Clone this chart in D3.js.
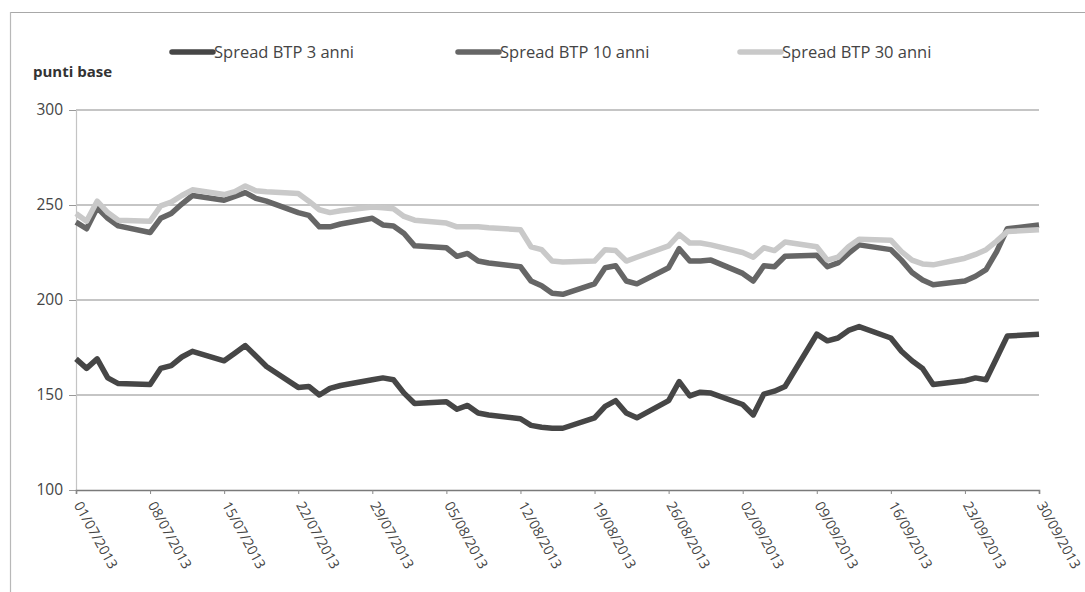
<!DOCTYPE html>
<html><head><meta charset="utf-8">
<script src="https://cdn.jsdelivr.net/npm/d3@7"></script>
<style>body{margin:0;background:#fff}svg{display:block}</style>
</head><body><svg id="c" width="1085" height="592"></svg>
<script>
const dates = [
 "01/07/2013","02/07/2013","03/07/2013","04/07/2013","05/07/2013",
 "08/07/2013","09/07/2013","10/07/2013","11/07/2013","12/07/2013",
 "15/07/2013","16/07/2013","17/07/2013","18/07/2013","19/07/2013",
 "22/07/2013","23/07/2013","24/07/2013","25/07/2013","26/07/2013",
 "29/07/2013","30/07/2013","31/07/2013","01/08/2013","02/08/2013",
 "05/08/2013","06/08/2013","07/08/2013","08/08/2013","09/08/2013",
 "12/08/2013","13/08/2013","14/08/2013","15/08/2013","16/08/2013",
 "19/08/2013","20/08/2013","21/08/2013","22/08/2013","23/08/2013",
 "26/08/2013","27/08/2013","28/08/2013","29/08/2013","30/08/2013",
 "02/09/2013","03/09/2013","04/09/2013","05/09/2013","06/09/2013",
 "09/09/2013","10/09/2013","11/09/2013","12/09/2013","13/09/2013",
 "16/09/2013","17/09/2013","18/09/2013","19/09/2013","20/09/2013",
 "23/09/2013","24/09/2013","25/09/2013","26/09/2013","27/09/2013",
 "30/09/2013"];
const spread3 = [
 169,164,169,159,156, 155.5,164,165.5,170,173, 168,172,176,170.5,165,
 154,154.5,150,153.5,155, 158,159,158,151,145.5,
 146.5,142.5,144.5,140.5,139.5, 137.5,134,133,132.5,132.5,
 138,144,147,140.5,138, 147,157,149.5,151.5,151,
 145,139.5,150.5,152,154.5, 182,178.5,180,184,186,
 180,173,168,164,155.5, 157.5,159,158,169.5,181, 182];
const spread10 = [
 241,237.5,248.5,243,239, 235.5,243,245.5,250.5,255, 252.5,254.5,256.5,253.5,252,
 246,244.5,238.5,238.5,240, 243,239.5,239,235,228.5,
 227.5,223,224.5,220.5,219.5, 217.5,210,207.5,203.5,203,
 208.5,217,218,210,208.5, 217,227,220.5,220.5,221,
 214,210,218,217.5,223, 223.5,217.5,219.5,224.5,229,
 226.5,221,214.5,210.5,208, 210,212.5,216,225.5,237.5, 239.5];
const spread30 = [
 245.5,241.5,252,246,242, 241.5,249.5,251.5,255,258, 255.5,257,260,257.5,257,
 256,252,247.5,246,247, 249,248.5,248,244,242,
 240.5,238.5,238.5,238.5,238, 237,228,226.5,220.5,220,
 220.5,226.5,226,220.5,222.5, 228.5,234.5,230,230,229,
 225,222.5,227.5,226,230.5, 228,221,222.5,228,232,
 231.5,225.5,221,219,218.5, 222,224,226.5,231,236, 237];
const seriesNames = ["Spread BTP 3 anni","Spread BTP 10 anni","Spread BTP 30 anni"];
const seriesColors = ["#464646","#666666","#c9c9c9"];
const tickLabels = ["01/07/2013","08/07/2013","15/07/2013","22/07/2013","29/07/2013",
 "05/08/2013","12/08/2013","19/08/2013","26/08/2013","02/09/2013","09/09/2013",
 "16/09/2013","23/09/2013","30/09/2013"];
const yTicks = [100,150,200,250,300];
const yTitle = "punti base";

const parse = d3.utcParse("%d/%m/%Y");
const svg = d3.select("#c");
const FONT = "'Open Sans', 'Noto Sans', sans-serif";

const x = d3.scaleUtc().domain([parse(tickLabels[0]), parse(tickLabels[tickLabels.length-1])]).range([76, 1039]);
const y = d3.scaleLinear().domain([100, 300]).range([490, 110]);

// frame
svg.append("line").attr("x1",10).attr("x2",1085).attr("y1",12.5).attr("y2",12.5).attr("stroke","#a8a8a8").attr("stroke-width",1.2);
svg.append("line").attr("x1",10.5).attr("x2",10.5).attr("y1",12).attr("y2",592).attr("stroke","#b8b8b8").attr("stroke-width",1.2);

// gridlines
svg.append("g").selectAll("line").data(yTicks.filter(v=>v>100)).join("line")
  .attr("x1",76).attr("x2",1039).attr("y1",d=>y(d)).attr("y2",d=>y(d))
  .attr("stroke","#8c8c8c").attr("stroke-width",1.1);

// y axis
const yAxis = svg.append("g").attr("transform","translate(76,0)")
  .call(d3.axisLeft(y).tickValues(yTicks).tickSize(7).tickPadding(6).tickFormat(d3.format("d")));
yAxis.select(".domain").attr("stroke","#c4c4c4").attr("stroke-width",1.2);
yAxis.selectAll(".tick line").attr("stroke","#999");
yAxis.selectAll("text").attr("font-family",FONT).attr("font-size",15.5).attr("fill","#444");

// x axis
const xAxis = svg.append("g").attr("transform",`translate(0,${y(100)})`)
  .call(d3.axisBottom(x).tickValues(tickLabels.map(parse)).tickSize(4).tickFormat(d3.utcFormat("%d/%m/%Y")));
xAxis.select(".domain").attr("stroke","#7a7a7a").attr("stroke-width",1.6);
xAxis.selectAll(".tick line").attr("stroke","#888");
xAxis.selectAll("text")
  .attr("font-family",FONT).attr("font-size",14).attr("fill","#444")
  .attr("text-anchor","start").attr("dy",0).attr("y",0)
  .attr("transform","translate(-3,15) rotate(61)");

// lines
const series = [spread3, spread10, spread30];
const line = d3.line().x((d,i)=>x(parse(dates[i]))).y(d=>y(d));
svg.append("g").selectAll("path").data(series).join("path")
  .attr("d", d=>line(d))
  .attr("fill","none")
  .attr("stroke",(d,i)=>seriesColors[i])
  .attr("stroke-width",5.5)
  .attr("stroke-linejoin","round");

// y title
svg.append("text").attr("x",33).attr("y",77).text(yTitle)
  .attr("font-family",FONT).attr("font-size",15).attr("font-weight","bold").attr("fill","#333");

// legend
const legX = [172, 458, 740];
const leg = svg.append("g").selectAll("g").data(seriesNames).join("g")
  .attr("transform",(d,i)=>`translate(${legX[i]},52)`);
leg.append("line").attr("x1",0).attr("x2",41).attr("y1",0).attr("y2",0)
  .attr("stroke",(d,i)=>seriesColors[i]).attr("stroke-width",5.5).attr("stroke-linecap","round");
leg.append("text").attr("x",42).attr("y",5.5).text(d=>d)
  .attr("font-family",FONT).attr("font-size",16.5).attr("fill","#444");
</script>
</body></html>
